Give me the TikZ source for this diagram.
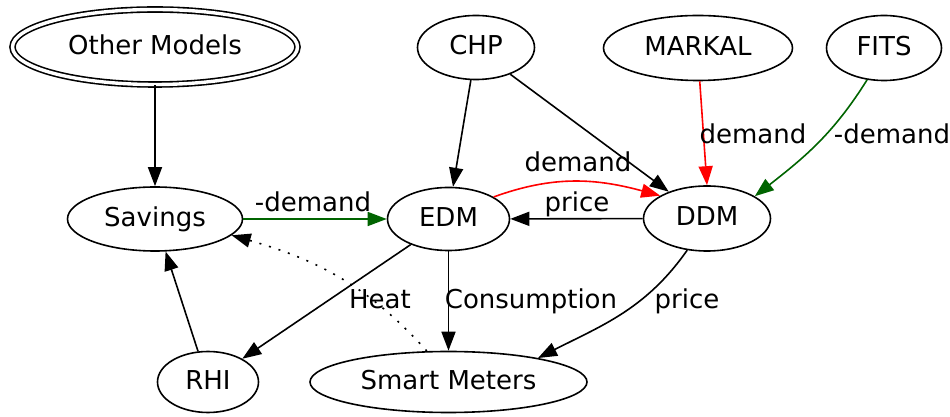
\documentclass[tikz,border=0pt]{standalone}
\usepackage{fontspec}
\setmainfont{DejaVu Sans}
\usetikzlibrary{arrows.meta,shapes.geometric}
\definecolor{dgreen}{RGB}{0,100,0}

\begin{document}
\begin{tikzpicture}[
    x=1pt,y=1pt,
    line width=1.6pt,
    font=\fontsize{26}{30}\selectfont,
    >={Triangle[length=19pt,width=14pt]},
    model/.style={ellipse,draw,inner sep=0pt,text height=20pt,text depth=5pt},
    lbl/.style={anchor=base,inner sep=0pt}
]
    \useasboundingbox (0,0) rectangle (950,417);
    % models
    \node[model,double,double distance=3.4pt,minimum width=285pt,minimum height=75pt] (other) at (155,370) {Other Models};
    \node[model,minimum width=117pt,minimum height=64pt] (chp) at (476,369.5) {CHP};
    \node[model,minimum width=189pt,minimum height=65pt] (markal) at (698,369) {MARKAL};
    \node[model,minimum width=115pt,minimum height=65pt] (fits) at (884,369) {FITS};
    \node[model,minimum width=175pt,minimum height=64pt] (sav) at (155,198) {Savings};
    \node[model,minimum width=122pt,minimum height=63pt] (edm) at (448.5,198) {EDM};
    \node[model,minimum width=127pt,minimum height=65pt] (ddm) at (707,198.5) {DDM};
    \node[model,minimum width=101pt,minimum height=61pt] (rhi) at (208,35) {RHI};
    \node[model,minimum width=277pt,minimum height=61pt] (smart) at (448.5,35) {Smart Meters};
    % links
    \draw[->] (other) -- (sav);
    \draw[->] (chp.261) -- (edm.82);
    \draw[->] (chp.322) -- (ddm.145);
    \draw[->,red] (markal.273) -- (ddm.90);
    \draw[->,dgreen] (fits.242) to[out=238,in=38] (ddm.25);
    \draw[->,dgreen] (sav) -- (edm);
    \draw[->,red] (edm.26) to[out=20,in=165] (ddm.154);
    \draw[->] (ddm) -- (edm);
    \draw[->] (edm) -- (rhi);
    \draw[->] (edm) -- (smart);
    \draw[->] (ddm.238) to[out=235,in=27] (smart.15);
    \draw[->,dash pattern=on 2pt off 8pt] (smart.125) to[out=132,in=344] (sav.348);
    \draw[->] (rhi) -- (sav);
    % labels
    \node[lbl] (l1) at (313,205) {-demand};
    \node[lbl] (l2) at (578,245) {demand};
    \node[lbl] (l3) at (577,205) {price};
    \node[lbl] (l4) at (753,273) {demand};
    \node[lbl] (l5) at (892,273) {-demand};
    \node[lbl] (l6) at (380,108) {Heat};
    \node[lbl] (l7) at (531,108) {Consumption};
    \node[lbl] (l8) at (687,108) {price};
\end{tikzpicture}
\end{document}
